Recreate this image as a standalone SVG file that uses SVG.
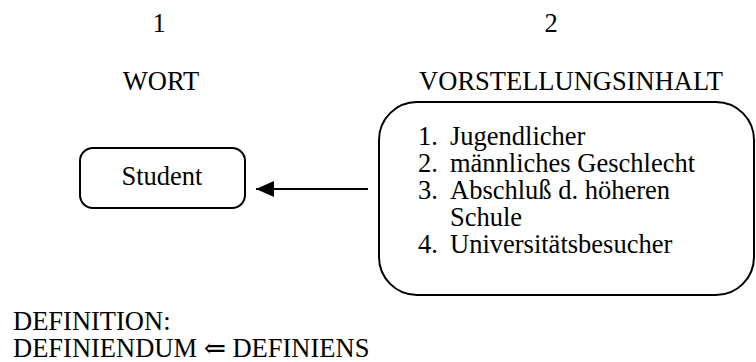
<svg xmlns="http://www.w3.org/2000/svg" width="756" height="362" viewBox="0 0 756 362">
  <style>
    text { font-family: "Liberation Serif", Tinos, "Times New Roman", "Noto Serif", "DejaVu Serif", serif; font-size: 26.5px; fill: #000; }
    .mid { text-anchor: middle; }
    .box { fill: #fff; stroke: #000; stroke-width: 2; }
    .edge { stroke: #000; stroke-width: 2; fill: none; }
  </style>
  <defs>
    <marker id="arrowhead" viewBox="0 0 18 16" refX="18" refY="8" markerWidth="18" markerHeight="16" markerUnits="userSpaceOnUse" orient="auto">
      <path d="M0,0 L18,8 L0,16 z" fill="#000"/>
    </marker>
  </defs>

  <!-- column headings -->
  <text class="mid" x="159" y="32">1</text>
  <text class="mid" x="551" y="32">2</text>
  <text class="mid" x="161" y="90">WORT</text>
  <text class="mid" x="571" y="90">VORSTELLUNGSINHALT</text>

  <!-- word node -->
  <g id="wort">
    <rect class="box" x="80" y="148" width="165" height="60" rx="13" ry="13"/>
    <text class="mid" x="162" y="185">Student</text>
  </g>

  <!-- concept content node -->
  <g id="vorstellungsinhalt">
    <rect class="box" x="379" y="102" width="375" height="193" rx="38" ry="38"/>
    <text x="418" y="145">1.</text><text x="450" y="145">Jugendlicher</text>
    <text x="418" y="172">2.</text><text x="450" y="172">männliches Geschlecht</text>
    <text x="418" y="199">3.</text><text x="450" y="199">Abschluß d. höheren</text>
    <text x="450" y="226">Schule</text>
    <text x="418" y="253">4.</text><text x="450" y="253">Universitätsbesucher</text>
  </g>

  <!-- connectors -->
  <g id="connectors">
    <line class="edge" x1="368" y1="189" x2="256" y2="189" marker-end="url(#arrowhead)"/>
  </g>

  <!-- definition caption -->
  <text x="13" y="330">DEFINITION:</text>
  <text x="13" y="357">DEFINIENDUM ⇐ DEFINIENS</text>
</svg>
